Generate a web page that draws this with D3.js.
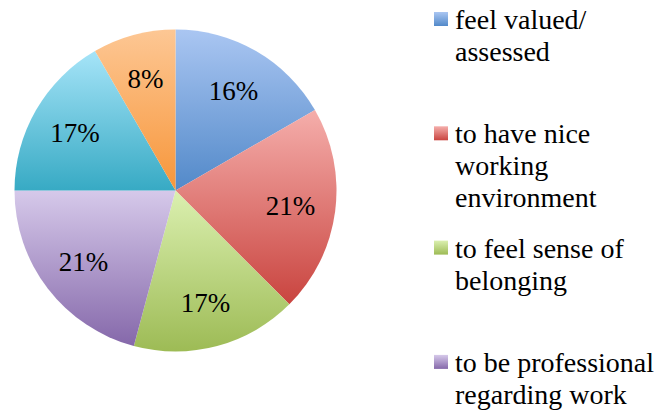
<!DOCTYPE html>
<html>
<head>
<meta charset="utf-8">
<script src="https://cdn.jsdelivr.net/npm/d3@7"></script>
<style>
  body { margin: 0; background: #fff; }
  svg { display: block; }
</style>
</head>
<body>
<svg width="661" height="412"></svg>
<script>
'use strict';

// slice counts (angles) and the labels shown on them
var values = [4, 5, 4, 5, 4, 2],
    pctLabels = ['16%', '21%', '17%', '21%', '17%', '8%'],
    legendLines = [
        ['feel valued/', 'assessed'],
        ['to have nice', 'working', 'environment'],
        ['to feel sense of', 'belonging'],
        ['to be professional', 'regarding work']
    ],
    topColors = ['#aac6f2', '#f5aeab', '#dbf0b0', '#d6c9ea', '#a6e4f8', '#fdc794'],
    bottomColors = ['#5289c9', '#c9443f', '#9dbb55', '#8568aa', '#37aac4', '#f7963a'];

var FONT = "'Liberation Serif', 'Times New Roman', Tinos, 'DejaVu Serif', serif";

var svg = d3.select('svg'),
    defs = svg.append('defs'),
    cx = 175.5, cy = 190.5, r = 161;

// vertical gradient per slice
values.forEach(function (v, i) {
    var g = defs.append('linearGradient')
        .attr('id', 'grad' + i)
        .attr('x1', 0).attr('y1', 0).attr('x2', 0).attr('y2', 1);
    g.append('stop').attr('offset', '0%').attr('stop-color', topColors[i]);
    g.append('stop').attr('offset', '100%').attr('stop-color', bottomColors[i]);
});

var pie = d3.pie().sort(null).value(function (d) { return d; }),
    arc = d3.arc().innerRadius(0).outerRadius(r),
    labelArc = d3.arc().innerRadius(r * 0.72).outerRadius(r * 0.72),
    arcs = pie(values);

var pieLayer = svg.append('g').attr('transform', 'translate(' + cx + ',' + cy + ')');

pieLayer.selectAll('path.slice')
    .data(arcs)
    .enter().append('path')
    .attr('class', 'slice')
    .attr('d', arc)
    .attr('fill', function (d, i) { return 'url(#grad' + i + ')'; });

pieLayer.selectAll('text.pct')
    .data(arcs)
    .enter().append('text')
    .attr('class', 'pct')
    .attr('transform', function (d) { return 'translate(' + labelArc.centroid(d) + ')'; })
    .attr('text-anchor', 'middle')
    .attr('dy', '0.35em')
    .attr('font-family', FONT)
    .attr('font-size', 27)
    .attr('fill', '#000')
    .text(function (d, i) { return pctLabels[i]; });

// legend (only the first four entries fit in the frame)
var legend = svg.append('g').attr('class', 'legend');

var item = legend.selectAll('g.item')
    .data(legendLines)
    .enter().append('g')
    .attr('class', 'item')
    .attr('transform', function (d, i) { return 'translate(434,' + (12 + i * 114.3) + ')'; });

item.append('rect')
    .attr('width', 14).attr('height', 14)
    .attr('fill', function (d, i) { return 'url(#grad' + i + ')'; });

item.append('text')
    .attr('x', 21)
    .attr('y', 17)
    .attr('font-family', FONT)
    .attr('font-size', 28)
    .attr('fill', '#000')
    .selectAll('tspan')
    .data(function (d) { return d; })
    .enter().append('tspan')
    .attr('x', 21)
    .attr('dy', function (d, j) { return j === 0 ? 0 : 32; })
    .text(function (d) { return d; });
</script>
</body>
</html>
